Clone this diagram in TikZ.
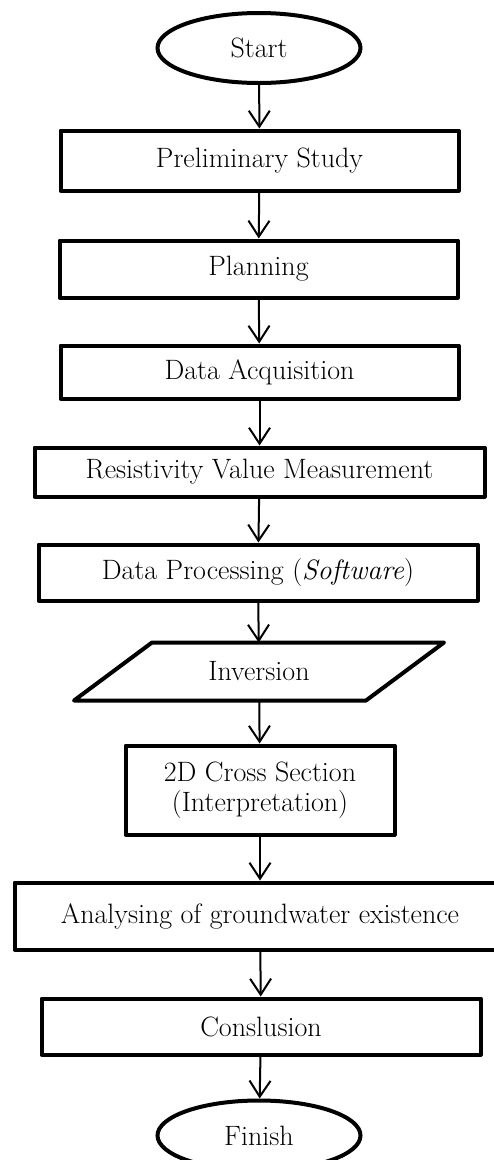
\documentclass[tikz,border=0pt]{standalone}
\usetikzlibrary{shapes.geometric,arrows.meta}
\begin{document}
\begin{tikzpicture}[x=1pt,y=-1pt,
  box/.style={draw,line width=4pt,rectangle,inner sep=0pt,align=center,font=\fontsize{28}{30}\selectfont,line join=round},
  oval/.style={draw,line width=4pt,ellipse,inner sep=0pt,font=\fontsize{28}{30}\selectfont},
  flow/.style={line width=2pt,-{Straight Barb[length=16pt,width=21pt,line width=2pt]}}]
\useasboundingbox (0,0) rectangle (494,1160);
\fill[white] (0,0) rectangle (494,1160);
\node[oval,minimum width=203pt,minimum height=70pt] (start) at (259,48) {\raisebox{-3pt}{Start}};
\node[box,minimum width=398pt,minimum height=60pt] (prelim) at (259.5,160.5) {\raisebox{-2pt}{Preliminary Study}};
\node[box,minimum width=398pt,minimum height=57pt] (plan) at (258.5,269) {\raisebox{-2pt}{Planning}};
\node[box,minimum width=398pt,minimum height=53pt] (acq) at (259.5,372) {\raisebox{-2pt}{Data Acquisition}};
\node[box,minimum width=450pt,minimum height=49pt] (res) at (259.5,472) {\raisebox{-2pt}{Resistivity Value Measurement}};
\node[box,minimum width=439pt,minimum height=56pt] (dp) at (258,572.5) {\raisebox{-2pt}{Data Processing (\textit{Software})}};
\node[box,draw=none,minimum width=366pt,minimum height=54pt] (inv) at (259,671.5) {\raisebox{-2pt}{Inversion}};
\draw[line width=4pt,line join=round] (inv.south west) -- ([xshift=292pt]inv.south west) -- (inv.north east) -- ([xshift=-292pt]inv.north east) -- cycle;
\node[box,minimum width=269pt,minimum height=89pt] (cross) at (260,790) {2D Cross Section\\(Interpretation)};
\node[box,minimum width=491pt,minimum height=67pt] (ana) at (260,916) {\raisebox{-2pt}{Analysing of groundwater existence}};
\node[box,minimum width=439pt,minimum height=56pt] (conc) at (261,1026.5) {\raisebox{-2pt}{Conslusion}};
\node[oval,minimum width=203pt,minimum height=70pt] (fin) at (259,1135.5) {\raisebox{-3pt}{Finish}};
\draw[flow] (start) -- (prelim);
\draw[flow] (prelim) -- (plan);
\draw[flow] (plan) -- (acq);
\draw[flow] (acq) -- (res);
\draw[flow] (res) -- (dp);
\draw[flow] (dp) -- (inv);
\draw[flow] (inv) -- (cross);
\draw[flow] (cross) -- (ana);
\draw[flow] (ana) -- (conc);
\draw[flow] (conc) -- (fin);
\end{tikzpicture}
\end{document}
